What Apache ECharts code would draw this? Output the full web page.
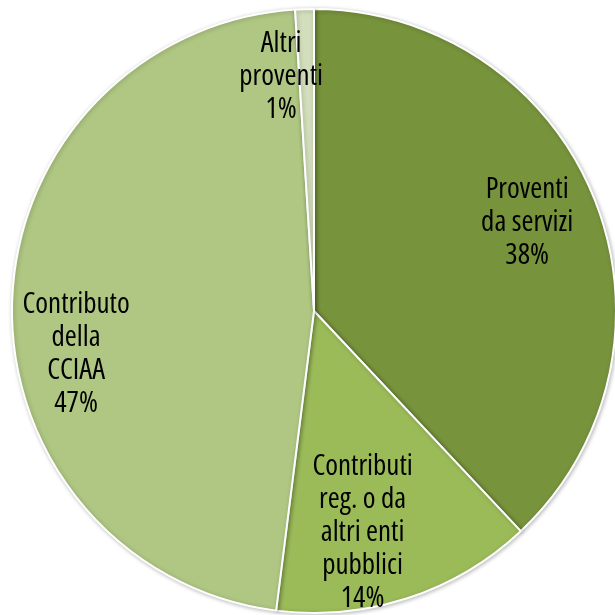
<!DOCTYPE html>
<html>
<head>
<meta charset="utf-8">
<script src="https://cdn.jsdelivr.net/npm/echarts@6/dist/echarts.min.js"></script>
<style>
  html, body { margin: 0; padding: 0; background: #fff; }
  #chart { width: 615px; height: 615px; }
</style>
</head>
<body>
<div id="chart"></div>
<script>
var categories = ['Proventi\nda servizi', 'Contributi\nreg. o da\naltri enti\npubblici', 'Contributo\ndella\nCCIAA', 'Altri\nproventi'];
var values = [38, 14, 47, 1];
var colors = ['#77933c', '#9bbb59', '#afc783', '#d3dfbc'];
// spostamento etichette rispetto alla posizione "inside"
var labelOffsets = [[70, -32], [1, 75], [-84, 48], [-28, -80]];

var chart = echarts.init(document.getElementById('chart'));

var pieData = [];
categories.forEach(function (name, i) {
  pieData.push({
    name: name,
    value: values[i],
    itemStyle: { color: colors[i] },
    label: { offset: labelOffsets[i] }
  });
});

chart.setOption({
  animation: false,
  series: [{
    type: 'pie',
    center: [314, 311],
    radius: [0, 302],
    startAngle: 90,
    clockwise: true,
    avoidLabelOverlap: false,
    itemStyle: {
      borderColor: '#fff',
      borderWidth: 2,
      shadowBlur: 4,
      shadowColor: 'rgba(0,0,0,0.25)',
      shadowOffsetX: 1,
      shadowOffsetY: 1
    },
    label: {
      show: true,
      position: 'inside',
      fontStyle: 'condensed',
      fontFamily: '"Open Sans", sans-serif',
      fontSize: 29,
      lineHeight: 33,
      color: '#000',
      align: 'center',
      formatter: function (p) {
        return p.name + '\n' + p.value + '%';
      }
    },
    labelLine: { show: false },
    emphasis: { disabled: true },
    data: pieData
  }]
});
</script>
</body>
</html>
